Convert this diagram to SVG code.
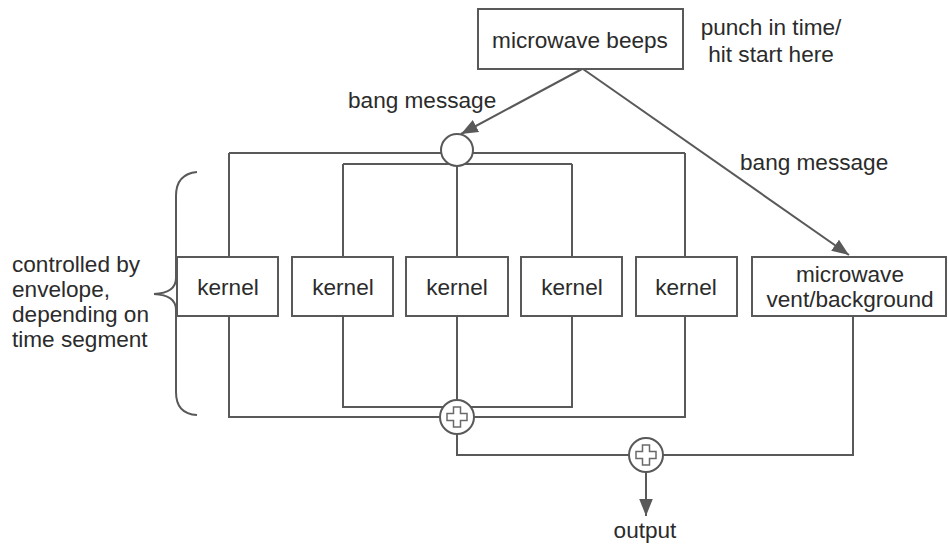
<svg xmlns="http://www.w3.org/2000/svg" width="948" height="544" viewBox="0 0 948 544">
<defs>
<style>
text{font-family:"Liberation Sans",Arial,sans-serif;font-size:22.6px;fill:#2b2b2b}
.t{text-anchor:middle}
.box{fill:#fff;stroke:#595959;stroke-width:2}
.ln{fill:none;stroke:#595959;stroke-width:2}
.circ{fill:#fff;stroke:#595959;stroke-width:2}
.plus{fill:none;stroke:#6a6a6a;stroke-width:1.5}
</style>
<marker id="ah2" viewBox="0 0 10 10" refX="10" refY="5" markerWidth="8.5" markerHeight="8.5" orient="auto">
<path d="M0,1 L10,5 L0,9 z" fill="#595959"/>
</marker>
</defs>
<rect width="948" height="544" fill="#fff"/>
<g id="connectors">
<path class="ln" d="M229,153 H441 M473,153 H685"/>
<path class="ln" d="M343,164 H572"/>
<path class="ln" d="M229,153 V257 M229,316 V417 H440 M474,417 H685 V316 M685,257 V153"/>
<path class="ln" d="M343,164 V257 M343,316 V407 H572 V316 M572,257 V164"/>
<path class="ln" d="M457,165 V257 M457,316 V400"/>
<path class="ln" d="M457,434 V455 H629 M663,455 H853 V316"/>
<path class="ln" d="M582,69 L461,134" marker-end="url(#ah2)"/>
<path class="ln" d="M583,69 L849,255" marker-end="url(#ah2)"/>
<path class="ln" d="M646,472 V516" marker-end="url(#ah2)"/>
<path class="ln" d="M197,172 Q176,174 176,196 L176,278 Q176,293 154,294 Q176,295 176,310 L176,392 Q176,414 197,415"/>
</g>
<g id="beeps">
<rect class="box" x="478" y="9" width="205" height="60"/>
<text class="t" x="580" y="48">microwave beeps</text>
</g>
<g id="note">
<text class="t" x="771" y="35">punch in time/</text>
<text class="t" x="771" y="62">hit start here</text>
</g>
<g id="label-bang1"><text x="348" y="108">bang message</text></g>
<g id="label-bang2"><text x="740" y="170">bang message</text></g>
<g id="split">
<circle class="circ" cx="457" cy="150" r="16"/>
</g>
<g id="kernel1"><rect class="box" x="177" y="257" width="101" height="59"/><text class="t" x="228" y="295">kernel</text></g>
<g id="kernel2"><rect class="box" x="292" y="257" width="101" height="59"/><text class="t" x="343" y="295">kernel</text></g>
<g id="kernel3"><rect class="box" x="406" y="257" width="102" height="59"/><text class="t" x="457" y="295">kernel</text></g>
<g id="kernel4"><rect class="box" x="521" y="257" width="101" height="59"/><text class="t" x="572" y="295">kernel</text></g>
<g id="kernel5"><rect class="box" x="636" y="257" width="101" height="59"/><text class="t" x="686" y="295">kernel</text></g>
<g id="vent">
<rect class="box" x="752" y="257" width="194" height="59"/>
<text class="t" x="850" y="282">microwave</text>
<text class="t" x="850" y="307">vent/background</text>
</g>
<g id="envelope-note">
<text x="12" y="272">controlled by</text>
<text x="12" y="297">envelope,</text>
<text x="12" y="322">depending on</text>
<text x="12" y="347">time segment</text>
</g>
<g id="sum1">
<circle class="circ" cx="457" cy="417" r="17"/>
<path class="plus" d="M453.5,407 h7 v6.5 h6.5 v7 h-6.5 v6.5 h-7 v-6.5 h-6.5 v-7 h6.5 z"/>
</g>
<g id="sum2">
<circle class="circ" cx="646" cy="455" r="17"/>
<path class="plus" d="M642.5,445 h7 v6.5 h6.5 v7 h-6.5 v6.5 h-7 v-6.5 h-6.5 v-7 h6.5 z"/>
</g>
<g id="output"><text class="t" x="645" y="538">output</text></g>
</svg>
